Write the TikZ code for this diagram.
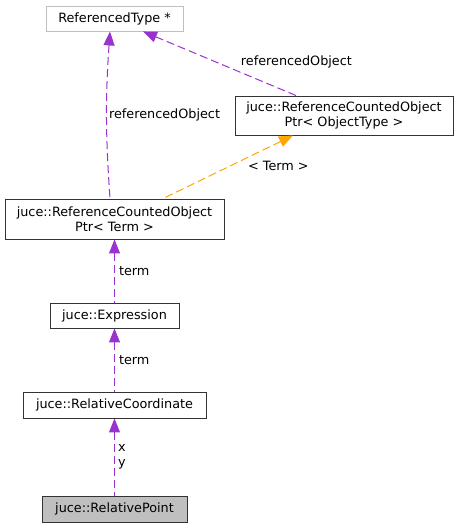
\documentclass[tikz,border=0pt]{standalone}
\usepackage{fontspec}
\setmainfont{DejaVu Sans}
\usetikzlibrary{arrows.meta}

\definecolor{edgepurple}{HTML}{9A32CD}
\definecolor{edgeorange}{HTML}{FFA500}
\definecolor{boxgray}{HTML}{BFBFBF}

\tikzset{
  classbox/.style={rectangle, draw=black!80, line width=0.9pt, inner sep=2pt, align=center,
    font=\fontsize{12.8}{14.5}\selectfont},
  usage/.style={edgepurple, line width=1pt, dash pattern=on 8pt off 4pt,
    {Triangle[length=14pt,width=11pt]}-},
  templ/.style={usage, edgeorange},
  elabel/.style={black, font=\fontsize{12.8}{15.5}\selectfont, inner sep=1pt}
}

\begin{document}
\begin{tikzpicture}[x=1pt, y=-1pt]
    \useasboundingbox (0,0) rectangle (459,528);

    \node[classbox, draw=boxgray, minimum width=137pt, minimum height=25pt] (RefType) at (114.5, 18.5) {ReferencedType *};
    \node[classbox, minimum width=218pt, minimum height=39pt] (RCPtr_obj) at (344, 115.5) {juce::ReferenceCountedObject\\Ptr< ObjectType >};
    \node[classbox, minimum width=219pt, minimum height=40pt] (RCPtr_term) at (114.5, 219) {juce::ReferenceCountedObject\\Ptr< Term >};
    \node[classbox, minimum width=129pt, minimum height=25pt] (Expr) at (114.5, 315.5) {juce::Expression};
    \node[classbox, minimum width=183pt, minimum height=26pt] (RelCoord) at (114.5, 405) {juce::RelativeCoordinate};
    \node[classbox, fill=boxgray, minimum width=145pt, minimum height=26pt] (RelPoint) at (114.5, 509) {juce::RelativePoint};

    \draw[usage] ([xshift=-4.5pt]RefType.south) to[bend right=4] node[elabel, pos=0.5, anchor=west, xshift=1pt] {referencedObject} ([xshift=-4.5pt]RCPtr_term.north);
    \draw[usage] ([xshift=28.5pt]RefType.south) -- node[elabel, pos=0.48, anchor=west, xshift=23pt] {referencedObject} ([xshift=-48pt]RCPtr_obj.north);
    \draw[templ] ([xshift=-51pt]RCPtr_obj.south) -- node[elabel, pos=0.48, anchor=west, xshift=16pt] {< Term >} ([xshift=48.5pt]RCPtr_term.north);
    \draw[usage] (RCPtr_term.south) -- node[elabel, pos=0.5, anchor=west, xshift=3pt] {term} (Expr.north);
    \draw[usage] (Expr.south) -- node[elabel, pos=0.5, anchor=west, xshift=3pt] {term} (RelCoord.north);
    \draw[usage] (RelCoord.south) -- node[elabel, pos=0.5, anchor=west, xshift=2pt, align=left] {x\\y} (RelPoint.north);

\end{tikzpicture}
\end{document}
